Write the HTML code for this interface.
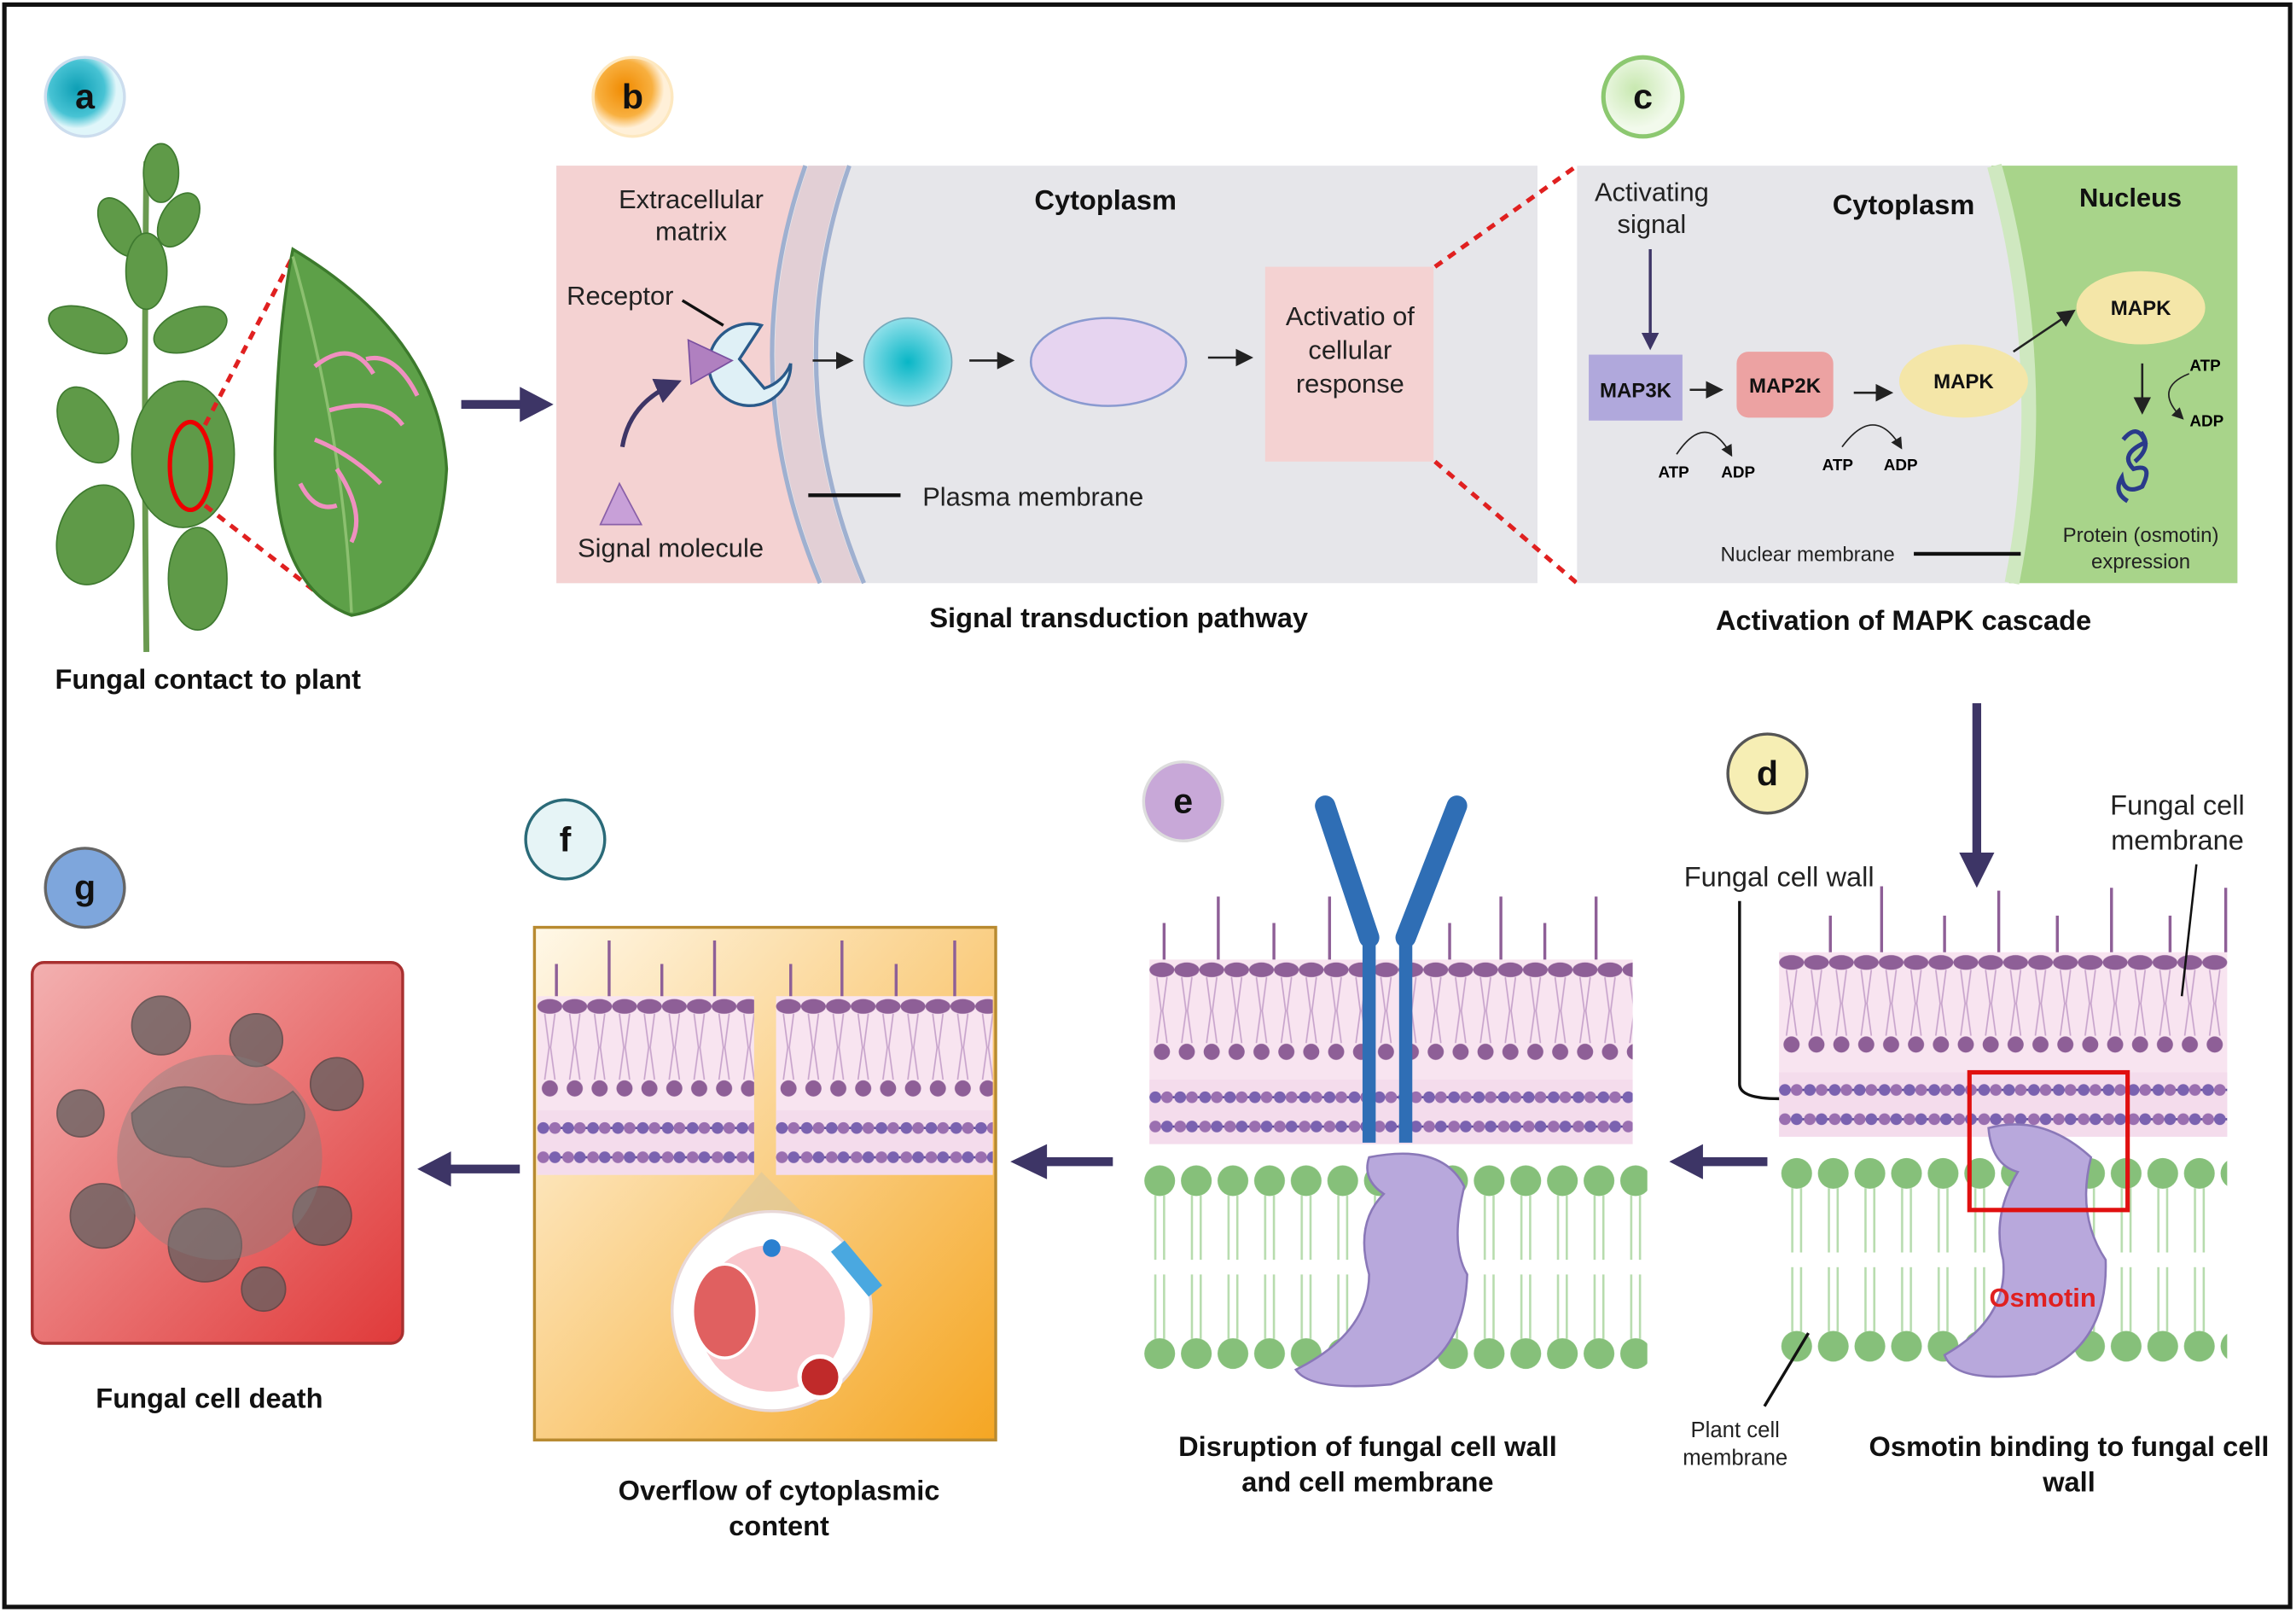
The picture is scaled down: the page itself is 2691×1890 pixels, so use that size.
<!DOCTYPE html>
<html><head><meta charset="utf-8"><style>
html,body{margin:0;padding:0;background:#fff}
svg{display:block}
text{font-family:"Liberation Sans",sans-serif}
</style></head><body>
<svg width="2691" height="1890" viewBox="0 0 1568 1101" xmlns="http://www.w3.org/2000/svg">
<defs>
<radialGradient id="ga" cx="0.4" cy="0.4"><stop offset="0" stop-color="#0e9fb5"/><stop offset="0.7" stop-color="#48c3d4"/><stop offset="1" stop-color="#e0f6fa"/></radialGradient>
<radialGradient id="gb" cx="0.4" cy="0.4"><stop offset="0" stop-color="#f08a00"/><stop offset="0.7" stop-color="#f8b040"/><stop offset="1" stop-color="#fff0d8"/></radialGradient>
<radialGradient id="gc" cx="0.4" cy="0.4"><stop offset="0" stop-color="#c8e8b0"/><stop offset="1" stop-color="#f2faec"/></radialGradient>
<radialGradient id="gcell" cx="0.5" cy="0.5"><stop offset="0" stop-color="#08b6c6"/><stop offset="1" stop-color="#8fe0ea"/></radialGradient>
<linearGradient id="gf" x1="0" y1="0" x2="1" y2="1"><stop offset="0" stop-color="#fff8e8"/><stop offset="1" stop-color="#f5a623"/></linearGradient>
<linearGradient id="gg" x1="0" y1="0" x2="1" y2="1"><stop offset="0" stop-color="#f3b0b0"/><stop offset="1" stop-color="#e03a3a"/></linearGradient>
<pattern id="greenLip" width="25" height="140" patternUnits="userSpaceOnUse">
<circle cx="12" cy="11" r="10.5" fill="#86c07a"/>
<path d="M9 21 V65 M15 21 V65 M9 75 V119 M15 75 V119" stroke="#b7dcae" stroke-width="1.5"/>
<circle cx="12" cy="129" r="10.5" fill="#86c07a"/>
</pattern>
<pattern id="purpLip" width="17" height="71" patternUnits="userSpaceOnUse">
<ellipse cx="8.5" cy="7" rx="8.5" ry="5" fill="#8e5f97"/>
<path d="M5 12 L8 35 L5 57 M12 12 L9 35 L12 57" stroke="#c8a4cc" stroke-width="1" fill="none"/>
<circle cx="8.5" cy="63" r="5.5" fill="#8e5f97"/>
</pattern>
<pattern id="chain" width="17" height="44" patternUnits="userSpaceOnUse">
<rect width="17" height="44" fill="#f4dcec"/>
<line x1="0" y1="12" x2="17" y2="12" stroke="#5a4a98" stroke-width="1.5"/>
<line x1="0" y1="32" x2="17" y2="32" stroke="#5a4a98" stroke-width="1.5"/>
<circle cx="4" cy="12" r="4" fill="#7a62b0"/><circle cx="12" cy="12" r="4" fill="#9a6fb0"/>
<circle cx="4" cy="32" r="4" fill="#9a6fb0"/><circle cx="12" cy="32" r="4" fill="#7a62b0"/>
</pattern>
<marker id="ah" markerWidth="8" markerHeight="8" refX="6" refY="4" orient="auto"><path d="M0 0 L8 4 L0 8z" fill="#222"/></marker>
<marker id="ahB" markerWidth="6" markerHeight="6" refX="4" refY="3" orient="auto"><path d="M0 0 L6 3 L0 6z" fill="#3d3566"/></marker>
</defs>
<rect x="0" y="0" width="1568" height="1101" fill="#fff"/>
<rect x="3" y="3" width="1561" height="1094" fill="none" stroke="#111" stroke-width="3"/>

<g font-weight="bold" font-size="24" text-anchor="middle">
<circle cx="58" cy="66" r="27" fill="url(#ga)" stroke="#cde" stroke-width="2"/><text x="58" y="74" fill="#111">a</text>
<circle cx="432" cy="66" r="27" fill="url(#gb)" stroke="#fde8c0" stroke-width="2"/><text x="432" y="74" fill="#111">b</text>
<circle cx="1122" cy="66" r="27" fill="url(#gc)" stroke="#8cc870" stroke-width="3"/><text x="1122" y="74" fill="#111">c</text>
<circle cx="1207" cy="528" r="27" fill="#f6eeb4" stroke="#555" stroke-width="2"/><text x="1207" y="536" fill="#111">d</text>
<circle cx="808" cy="547" r="27" fill="#c8a8d8" stroke="#ddd" stroke-width="2"/><text x="808" y="555" fill="#111">e</text>
<circle cx="386" cy="573" r="27" fill="#e6f4f6" stroke="#2a6a78" stroke-width="2"/><text x="386" y="581" fill="#111">f</text>
<circle cx="58" cy="606" r="27" fill="#7ea6dc" stroke="#666" stroke-width="2"/><text x="58" y="614" fill="#111">g</text>
</g>

<g>
<path d="M100 110 Q98 280 100 445" stroke="#6a9a50" stroke-width="4" fill="none"/>
<g fill="#5f9a48" stroke="#3f7a30" stroke-width="1">
<ellipse cx="110" cy="118" rx="12" ry="20"/>
<ellipse cx="82" cy="155" rx="12" ry="22" transform="rotate(-30 82 155)"/>
<ellipse cx="122" cy="150" rx="12" ry="20" transform="rotate(30 122 150)"/>
<ellipse cx="100" cy="185" rx="14" ry="26"/>
<ellipse cx="60" cy="225" rx="28" ry="14" transform="rotate(20 60 225)"/>
<ellipse cx="130" cy="225" rx="26" ry="14" transform="rotate(-20 130 225)"/>
<ellipse cx="125" cy="310" rx="35" ry="50"/>
<ellipse cx="65" cy="365" rx="25" ry="35" transform="rotate(20 65 365)"/>
<ellipse cx="135" cy="395" rx="20" ry="35"/>
<ellipse cx="60" cy="290" rx="18" ry="28" transform="rotate(-30 60 290)"/>
</g>
<ellipse cx="130" cy="318" rx="14" ry="30" fill="none" stroke="#e00" stroke-width="3"/>
<line x1="140" y1="290" x2="200" y2="175" stroke="#e02020" stroke-width="3" stroke-dasharray="6 5"/>
<line x1="140" y1="345" x2="230" y2="415" stroke="#e02020" stroke-width="3" stroke-dasharray="6 5"/>
<path d="M200 170 Q300 230 305 320 Q300 410 240 420 Q185 400 188 300 Q190 220 200 170z" fill="#5da048" stroke="#3c7a2c" stroke-width="2"/>
<path d="M200 175 Q235 300 240 418" stroke="#8cc070" stroke-width="2" fill="none"/>
<path d="M215 250 Q240 230 255 255 M225 280 Q260 270 275 290 M215 300 Q240 310 260 330 M230 320 Q250 350 240 370 M205 330 Q215 350 230 345 M250 245 Q270 240 285 270" stroke="#f090c0" stroke-width="3" fill="none"/>
<text x="142" y="470" font-size="19" font-weight="bold" text-anchor="middle" fill="#111">Fungal contact to plant</text>
</g>
<line x1="315" y1="276" x2="360" y2="276" stroke="#3d3566" stroke-width="6"/>
<path d="M355 264 L378 276 L355 288z" fill="#3d3566"/>

<rect x="380" y="113" width="670" height="285" fill="#e6e6ea"/>
<path d="M380 113 H550 Q500 255 560 398 H380z" fill="#f4d2d2"/>
<path d="M552 113 Q502 255 562 398 L588 398 Q528 255 578 113z" fill="#e0c4cc" opacity="0.7"/>
<path d="M550 113 Q500 255 560 398" stroke="#9fb0d0" stroke-width="3" fill="none"/>
<path d="M580 113 Q530 255 590 398" stroke="#9fb0d0" stroke-width="3" fill="none"/>
<text x="472" y="142" font-size="18" text-anchor="middle" fill="#222">Extracellular</text>
<text x="472" y="164" font-size="18" text-anchor="middle" fill="#222">matrix</text>
<text x="755" y="143" font-size="19" font-weight="bold" text-anchor="middle" fill="#111">Cytoplasm</text>
<text x="387" y="208" font-size="18" fill="#222">Receptor</text>
<line x1="466" y1="205" x2="494" y2="222" stroke="#111" stroke-width="2"/>
<path d="M540 248 A28 28 0 1 1 520 222 L505 245 L522 265 A28 28 0 0 0 540 248" fill="#dff0f6" stroke="#2a5a8a" stroke-width="2"/>
<path d="M470 232 L500 246 L472 262z" fill="#b080c0" stroke="#7a50a0"/>
<path d="M425 305 Q430 275 460 262" stroke="#3d3566" stroke-width="3" fill="none" marker-end="url(#ahB)"/>
<path d="M423 330 L410 358 L438 358z" fill="#c8a0d8" stroke="#8a60a8"/>
<text x="458" y="380" font-size="18" text-anchor="middle" fill="#222">Signal molecule</text>
<line x1="555" y1="246" x2="580" y2="246" stroke="#222" stroke-width="1.5" marker-end="url(#ah)"/>
<circle cx="620" cy="247" r="30" fill="url(#gcell)" stroke="#7ab" stroke-width="1"/>
<line x1="662" y1="246" x2="690" y2="246" stroke="#222" stroke-width="1.5" marker-end="url(#ah)"/>
<ellipse cx="757" cy="247" rx="53" ry="30" fill="#e6d4f0" stroke="#8a9ad0" stroke-width="1.5"/>
<line x1="825" y1="244" x2="853" y2="244" stroke="#222" stroke-width="1.5" marker-end="url(#ah)"/>
<rect x="864" y="182" width="115" height="133" fill="#f4d2d2"/>
<text x="922" y="222" font-size="18" text-anchor="middle" fill="#222">Activatio of</text>
<text x="922" y="245" font-size="18" text-anchor="middle" fill="#222">cellular</text>
<text x="922" y="268" font-size="18" text-anchor="middle" fill="#222">response</text>
<line x1="552" y1="338" x2="615" y2="338" stroke="#111" stroke-width="2.5"/>
<text x="630" y="345" font-size="18" fill="#222">Plasma membrane</text>
<text x="764" y="428" font-size="19" font-weight="bold" text-anchor="middle" fill="#111">Signal transduction pathway</text>
<line x1="980" y1="182" x2="1077" y2="113" stroke="#e02020" stroke-width="3" stroke-dasharray="6 5"/>
<line x1="980" y1="315" x2="1077" y2="398" stroke="#e02020" stroke-width="3" stroke-dasharray="6 5"/>

<rect x="1077" y="113" width="451" height="285" fill="#e6e6ea"/>
<path d="M1360 113 Q1400 255 1372 398 H1528 V113z" fill="#a8d48a"/>
<path d="M1362 113 Q1402 255 1374 398" stroke="#cfe8c0" stroke-width="10" fill="none"/>
<text x="1128" y="137" font-size="18" text-anchor="middle" fill="#222">Activating</text>
<text x="1128" y="159" font-size="18" text-anchor="middle" fill="#222">signal</text>
<text x="1300" y="146" font-size="19" font-weight="bold" text-anchor="middle" fill="#111">Cytoplasm</text>
<text x="1455" y="141" font-size="18" font-weight="bold" text-anchor="middle" fill="#111">Nucleus</text>
<line x1="1127" y1="170" x2="1127" y2="235" stroke="#3d3566" stroke-width="2" marker-end="url(#ahB)"/>
<rect x="1085" y="242" width="64" height="45" fill="#b0a8dc"/>
<text x="1117" y="271" font-size="14" font-weight="bold" text-anchor="middle" fill="#111">MAP3K</text>
<line x1="1154" y1="266" x2="1174" y2="266" stroke="#222" stroke-width="1.5" marker-end="url(#ah)"/>
<rect x="1186" y="240" width="66" height="45" rx="8" fill="#eca2a2"/>
<text x="1219" y="268" font-size="14" font-weight="bold" text-anchor="middle" fill="#111">MAP2K</text>
<line x1="1266" y1="268" x2="1290" y2="268" stroke="#222" stroke-width="1.5" marker-end="url(#ah)"/>
<ellipse cx="1341" cy="260" rx="44" ry="25" fill="#f4e6a8"/>
<text x="1341" y="265" font-size="14" font-weight="bold" text-anchor="middle" fill="#111">MAPK</text>
<line x1="1375" y1="240" x2="1415" y2="213" stroke="#222" stroke-width="1.5" marker-end="url(#ah)"/>
<ellipse cx="1462" cy="210" rx="44" ry="25" fill="#f4e6a8"/>
<text x="1462" y="215" font-size="14" font-weight="bold" text-anchor="middle" fill="#111">MAPK</text>
<path d="M1145 310 Q1165 280 1182 310" stroke="#222" stroke-width="1" fill="none" marker-end="url(#ah)"/>
<text x="1143" y="326" font-size="11" font-weight="bold" text-anchor="middle">ATP</text>
<text x="1187" y="326" font-size="11" font-weight="bold" text-anchor="middle">ADP</text>
<path d="M1258 305 Q1280 275 1298 305" stroke="#222" stroke-width="1" fill="none" marker-end="url(#ah)"/>
<text x="1255" y="321" font-size="11" font-weight="bold" text-anchor="middle">ATP</text>
<text x="1298" y="321" font-size="11" font-weight="bold" text-anchor="middle">ADP</text>
<line x1="1463" y1="248" x2="1463" y2="280" stroke="#222" stroke-width="1.5" marker-end="url(#ah)"/>
<path d="M1495 255 Q1470 265 1490 285" stroke="#222" stroke-width="1" fill="none" marker-end="url(#ah)"/>
<text x="1506" y="253" font-size="11" font-weight="bold" text-anchor="middle">ATP</text>
<text x="1507" y="291" font-size="11" font-weight="bold" text-anchor="middle">ADP</text>
<path d="M1450 300 q10 -12 15 2 q-18 8 -8 18 q14 -4 6 12 q-12 6 -14 -6 q-6 10 4 16 M1462 295 q8 10 -4 20" stroke="#2a3a8a" stroke-width="3" fill="none"/>
<text x="1462" y="370" font-size="14" text-anchor="middle" fill="#222">Protein (osmotin)</text>
<text x="1462" y="388" font-size="14" text-anchor="middle" fill="#222">expression</text>
<text x="1175" y="383" font-size="14" fill="#222">Nuclear membrane</text>
<line x1="1307" y1="378" x2="1380" y2="378" stroke="#111" stroke-width="2.5"/>
<text x="1300" y="430" font-size="19" font-weight="bold" text-anchor="middle" fill="#111">Activation of MAPK cascade</text>

<line x1="1350" y1="480" x2="1350" y2="585" stroke="#3d3566" stroke-width="6"/>
<path d="M1338 582 L1350 606 L1362 582z" fill="#3d3566"/>

<g>
<rect x="1215" y="650" width="306" height="126" fill="#f8e4f0"/>
<g transform="translate(1215 650)"><rect width="306" height="71" fill="url(#purpLip)"/></g>
<g transform="translate(1215 732)"><rect width="306" height="44" fill="url(#chain)"/></g>
<g transform="translate(1215 790)"><rect width="306" height="140" fill="url(#greenLip)"/></g>
<path d="M1250 650 V625 M1285 650 V605 M1328 650 V625 M1365 650 V608 M1405 650 V625 M1442 650 V606 M1482 650 V625 M1520 650 V606" stroke="#8e5f97" stroke-width="2"/>
<path d="M1358 770 Q1395 760 1428 790 Q1418 830 1438 860 Q1440 920 1390 938 Q1335 945 1328 925 Q1372 900 1368 860 Q1360 830 1378 800 Q1360 795 1358 770z" fill="#b8a8dc" stroke="#8a78b8" stroke-width="1.5"/>
<rect x="1345" y="732" width="108" height="94" fill="none" stroke="#e01010" stroke-width="3"/>
<text x="1395" y="892" font-size="18" font-weight="bold" text-anchor="middle" fill="#e02020">Osmotin</text>
<text x="1215" y="605" font-size="19" text-anchor="middle" fill="#222">Fungal cell wall</text>
<path d="M1188 615 V740 Q1188 750 1215 750" stroke="#111" stroke-width="2" fill="none"/>
<text x="1487" y="556" font-size="19" text-anchor="middle" fill="#222">Fungal cell</text>
<text x="1487" y="580" font-size="19" text-anchor="middle" fill="#222">membrane</text>
<line x1="1500" y1="590" x2="1490" y2="680" stroke="#111" stroke-width="1.5"/>
<line x1="1235" y1="910" x2="1205" y2="960" stroke="#111" stroke-width="2"/>
<text x="1185" y="981" font-size="15" text-anchor="middle" fill="#222">Plant cell</text>
<text x="1185" y="1000" font-size="15" text-anchor="middle" fill="#222">membrane</text>
<text x="1413" y="994" font-size="19" font-weight="bold" text-anchor="middle" fill="#111">Osmotin binding to fungal cell</text>
<text x="1413" y="1018" font-size="19" font-weight="bold" text-anchor="middle" fill="#111">wall</text>
</g>
<line x1="1160" y1="793" x2="1207" y2="793" stroke="#3d3566" stroke-width="6"/>
<path d="M1163 781 L1140 793 L1163 805z" fill="#3d3566"/>

<g>
<rect x="785" y="655" width="330" height="126" fill="#f8e4f0"/>
<g transform="translate(785 655)"><rect width="330" height="71" fill="url(#purpLip)"/></g>
<g transform="translate(785 737)"><rect width="330" height="44" fill="url(#chain)"/></g>
<g transform="translate(780 795)"><rect width="345" height="140" fill="url(#greenLip)"/></g>
<path d="M795 655 V630 M832 655 V612 M870 655 V630 M908 655 V612 M990 655 V630 M1025 655 V612 M1055 655 V630 M1090 655 V612" stroke="#8e5f97" stroke-width="2"/>
<path d="M935 640 V780 M960 640 V780" stroke="#2f6eb5" stroke-width="9"/>
<path d="M935 640 L905 550 M960 640 L995 550" stroke="#2f6eb5" stroke-width="14" stroke-linecap="round"/>
<path d="M935 790 Q985 780 1000 810 Q990 850 1002 870 Q1000 930 950 945 Q895 950 885 935 Q935 910 935 870 Q925 835 945 815 Q930 805 935 790z" fill="#b8a8dc" stroke="#8a78b8" stroke-width="1.5"/>
<text x="934" y="994" font-size="19" font-weight="bold" text-anchor="middle" fill="#111">Disruption of fungal cell wall</text>
<text x="934" y="1018" font-size="19" font-weight="bold" text-anchor="middle" fill="#111">and cell membrane</text>
</g>
<line x1="712" y1="793" x2="760" y2="793" stroke="#3d3566" stroke-width="6"/>
<path d="M715 781 L690 793 L715 805z" fill="#3d3566"/>

<rect x="365" y="633" width="315" height="350" fill="url(#gf)" stroke="#b88a30" stroke-width="2"/>
<rect x="367" y="680" width="148" height="122" fill="#f8e4f0"/>
<rect x="530" y="680" width="148" height="122" fill="#f8e4f0"/>
<g transform="translate(367 680)"><rect width="148" height="71" fill="url(#purpLip)"/></g>
<g transform="translate(530 680)"><rect width="148" height="71" fill="url(#purpLip)"/></g>
<g transform="translate(367 758)"><rect width="148" height="44" fill="url(#chain)"/></g>
<g transform="translate(530 758)"><rect width="148" height="44" fill="url(#chain)"/></g>
<path d="M380 680 V658 M416 680 V642 M452 680 V658 M488 680 V642 M540 680 V658 M575 680 V642 M612 680 V658 M652 680 V642" stroke="#8e5f97" stroke-width="2"/>
<path d="M520 800 L470 860 L580 860z" fill="#d8c8a0" opacity="0.6"/>
<circle cx="527" cy="895" r="68" fill="#fff" stroke="#e8d8d8" stroke-width="2"/>
<circle cx="527" cy="900" r="50" fill="#f6b0b8" opacity="0.7"/>
<ellipse cx="495" cy="895" rx="22" ry="32" fill="#e06060" stroke="#fff" stroke-width="2"/>
<circle cx="560" cy="940" r="14" fill="#c02a2a" stroke="#fff" stroke-width="3"/>
<rect x="565" y="860" width="40" height="12" fill="#4aa8e0" transform="rotate(50 585 866)"/>
<circle cx="527" cy="852" r="6" fill="#2a80d0"/>
<text x="532" y="1024" font-size="19" font-weight="bold" text-anchor="middle" fill="#111">Overflow of cytoplasmic</text>
<text x="532" y="1048" font-size="19" font-weight="bold" text-anchor="middle" fill="#111">content</text>
<line x1="305" y1="798" x2="355" y2="798" stroke="#3d3566" stroke-width="6"/>
<path d="M308 786 L285 798 L308 810z" fill="#3d3566"/>

<rect x="22" y="657" width="253" height="260" rx="8" fill="url(#gg)" stroke="#a83030" stroke-width="2"/>
<g fill="#606060" opacity="0.75" stroke="#444">
<path d="M90 760 q30 -30 60 -10 q30 10 50 -5 q20 20 -10 40 q-30 20 -60 5 q-40 0 -40 -30z"/>
<circle cx="110" cy="700" r="20"/><circle cx="175" cy="710" r="18"/>
<circle cx="70" cy="830" r="22"/><circle cx="140" cy="850" r="25"/><circle cx="220" cy="830" r="20"/>
<circle cx="230" cy="740" r="18"/><circle cx="55" cy="760" r="16"/><circle cx="180" cy="880" r="15"/>
</g>
<g fill="#808080" opacity="0.4">
<circle cx="150" cy="790" r="70"/>
</g>
<text x="143" y="961" font-size="19" font-weight="bold" text-anchor="middle" fill="#111">Fungal cell death</text>
</svg>
</body></html>
